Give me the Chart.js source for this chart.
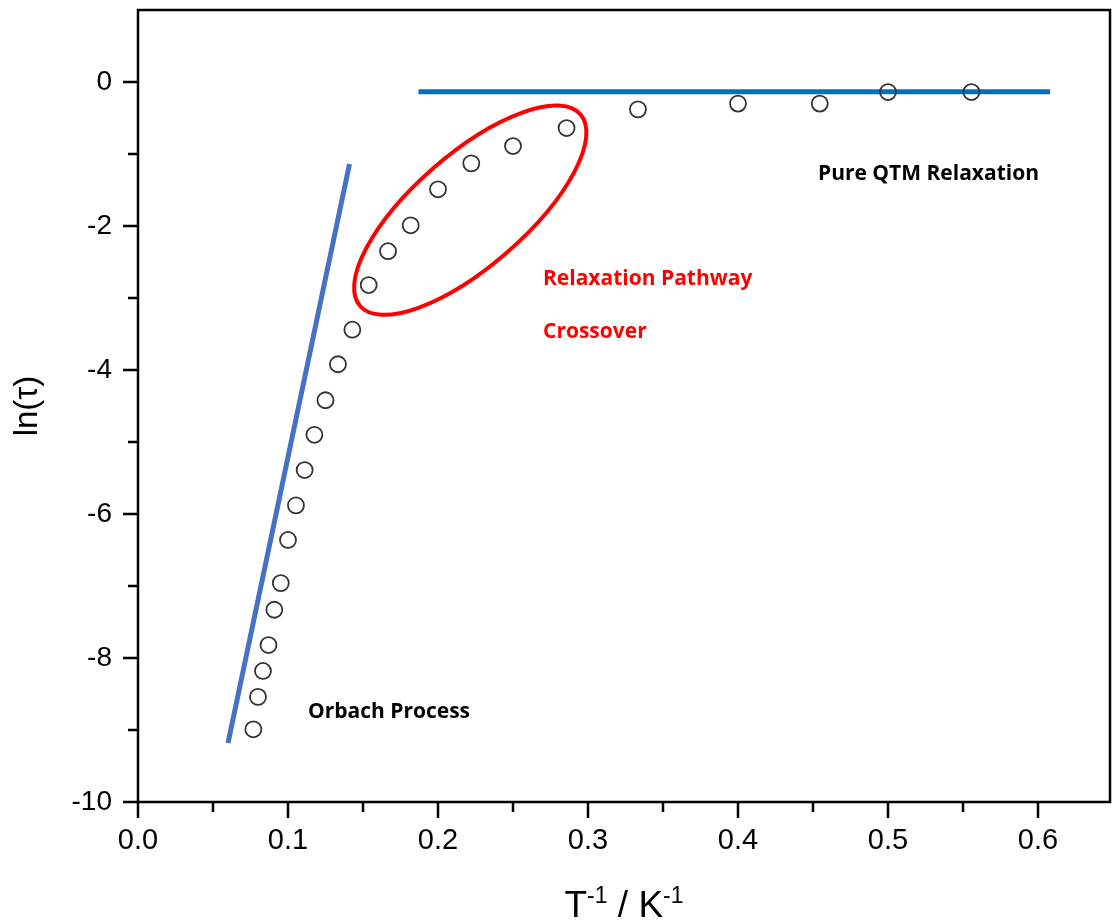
<!DOCTYPE html>
<html>
<head>
<meta charset="utf-8">
<script src="https://cdn.jsdelivr.net/npm/chart.js@4.4.1/dist/chart.umd.min.js"></script>
<style>
  html, body { margin: 0; padding: 0; background: #fff; }
  #wrap { width: 1112px; height: 923px; }
</style>
</head>
<body>
<div id="wrap"><canvas id="relax-chart" width="1112" height="923"></canvas></div>
<script>
// 1/T (K^-1) and ln(tau)
var invT  = [0.0769, 0.0800, 0.0833, 0.0870, 0.0909, 0.0952, 0.1000, 0.1053, 0.1111, 0.1176,
             0.1250, 0.1333, 0.1429, 0.1538, 0.1667, 0.1818, 0.2000, 0.2222, 0.2500, 0.2857,
             0.3333, 0.4000, 0.4545, 0.5000, 0.5556];
var lnTau = [-8.99, -8.54, -8.18, -7.82, -7.33, -6.96, -6.36, -5.88, -5.39, -4.90,
             -4.42, -3.92, -3.44, -2.82, -2.35, -1.99, -1.49, -1.13, -0.89, -0.64,
             -0.38, -0.30, -0.30, -0.14, -0.14];

// guide lines
var orbachX = [0.060, 0.141];
var orbachY = [-9.18, -1.14];
var qtmX = [0.187, 0.608];
var qtmY = [-0.135, -0.135];

// ticks
var xMajor = [0.0, 0.1, 0.2, 0.3, 0.4, 0.5, 0.6];
var xMinor = [0.05, 0.15, 0.25, 0.35, 0.45, 0.55];
var yMajor = [-10, -8, -6, -4, -2, 0];
var yMinor = [-9, -7, -5, -3, -1];

function pts(xs, ys) {
  return xs.map(function (x, i) { return { x: x, y: ys[i] }; });
}
function isMajor(list, v) {
  return list.some(function (m) { return Math.abs(m - v) < 1e-6; });
}
function setTicks(major, minor) {
  return function (scale) {
    scale.ticks = major.concat(minor).sort(function (a, b) { return a - b; })
      .map(function (v) { return { value: v, major: isMajor(major, v) }; });
  };
}

// frame, tick marks, x title, ellipse and notes
var decor = {
  id: 'decor',
  afterDatasetsDraw: function (chart) {
    var ctx = chart.ctx, a = chart.chartArea;
    var xs = chart.scales.x, ys = chart.scales.y;
    ctx.save();

    // red ellipse round the crossover points
    ctx.beginPath();
    ctx.strokeStyle = '#ff0000';
    ctx.lineWidth = 4;
    ctx.ellipse(xs.getPixelForValue(0.2215), ys.getPixelForValue(-1.78), 146, 56, -41 * Math.PI / 180, 0, 2 * Math.PI);
    ctx.stroke();

    // notes
    ctx.font = 'bold 21px "Open Sans"';
    ctx.textBaseline = 'alphabetic';
    ctx.textAlign = 'left';
    ctx.fillStyle = '#000';
    ctx.fillText('Pure QTM Relaxation', xs.getPixelForValue(0.4533), ys.getPixelForValue(-1.36));
    ctx.fillText('Orbach Process', xs.getPixelForValue(0.1133), ys.getPixelForValue(-8.83));
    ctx.fillStyle = '#ff0000';
    ctx.fillText('Relaxation Pathway', xs.getPixelForValue(0.27), ys.getPixelForValue(-2.82));
    ctx.fillText('Crossover', xs.getPixelForValue(0.27), ys.getPixelForValue(-3.556));

    // frame
    ctx.strokeStyle = '#000';
    ctx.lineWidth = 2.5;
    ctx.strokeRect(a.left, a.top, a.right - a.left, a.bottom - a.top);

    // tick marks, pointing out
    ctx.beginPath();
    xs.ticks.forEach(function (t) {
      var px = xs.getPixelForValue(t.value);
      ctx.moveTo(px, a.bottom);
      ctx.lineTo(px, a.bottom + (t.major ? 16 : 10));
    });
    ys.ticks.forEach(function (t) {
      var py = ys.getPixelForValue(t.value);
      ctx.moveTo(a.left, py);
      ctx.lineTo(a.left - (t.major ? 15 : 10), py);
    });
    ctx.stroke();

    // x axis title with superscripts
    var big = '37px "Liberation Sans", Arial', small = '23px "Liberation Sans", Arial';
    var parts = [['T', big, 0], ['-1', small, -14], [' / K', big, 0], ['-1', small, -14]];
    var w = 0;
    parts.forEach(function (p) { ctx.font = p[1]; w += ctx.measureText(p[0]).width; });
    var x = (a.left + a.right) / 2 - w / 2, y = 917;
    ctx.fillStyle = '#000';
    ctx.textBaseline = 'alphabetic';
    parts.forEach(function (p) {
      ctx.font = p[1];
      ctx.fillText(p[0], x, y + p[2]);
      x += ctx.measureText(p[0]).width;
    });
    ctx.restore();
  }
};

new Chart(document.getElementById('relax-chart'), {
  type: 'scatter',
  data: {
    datasets: [
      {
        label: 'ln(τ)',
        data: pts(invT, lnTau),
        showLine: false,
        pointRadius: 8,
        pointBorderWidth: 1.8,
        pointBorderColor: '#333333',
        pointBackgroundColor: 'rgba(0,0,0,0)'
      },
      {
        label: 'Orbach',
        data: pts(orbachX, orbachY),
        showLine: true,
        borderColor: '#4472c4',
        borderWidth: 5,
        pointRadius: 0
      },
      {
        label: 'QTM',
        data: pts(qtmX, qtmY),
        showLine: true,
        borderColor: '#0070c0',
        borderWidth: 5,
        pointRadius: 0
      }
    ]
  },
  options: {
    responsive: false,
    animation: false,
    layout: { autoPadding: false, padding: { top: 10, right: 2, left: 0, bottom: 0 } },
    plugins: { legend: { display: false }, tooltip: { enabled: false } },
    scales: {
      x: {
        type: 'linear',
        min: 0,
        max: 0.648,
        afterBuildTicks: setTicks(xMajor, xMinor),
        afterFit: function (s) { s.height = 121; s.paddingLeft = 0; s.paddingRight = 0; },
        grid: { display: false, drawTicks: false },
        border: { display: false },
        ticks: {
          padding: 22,
          maxRotation: 0,
          autoSkip: false,
          color: '#000',
          font: { family: '"Liberation Sans", Arial', size: 29 },
          callback: function (v) { return isMajor(xMajor, v) ? v.toFixed(1) : ''; }
        }
      },
      y: {
        min: -10,
        max: 1,
        afterBuildTicks: setTicks(yMajor, yMinor),
        afterFit: function (s) { s.width = 138; s.paddingTop = 0; s.paddingBottom = 0; },
        grid: { display: false, drawTicks: false },
        border: { display: false },
        title: {
          display: true,
          text: 'ln(τ)',
          color: '#000',
          font: { family: '"Liberation Sans", Arial', size: 33 },
          padding: { top: 8, bottom: 0 }
        },
        ticks: {
          padding: 26,
          autoSkip: false,
          color: '#000',
          font: { family: '"Liberation Sans", Arial', size: 28 },
          callback: function (v) { return isMajor(yMajor, v) ? String(Math.round(v)) : ''; }
        }
      }
    }
  },
  plugins: [decor]
});
</script>
</body>
</html>
